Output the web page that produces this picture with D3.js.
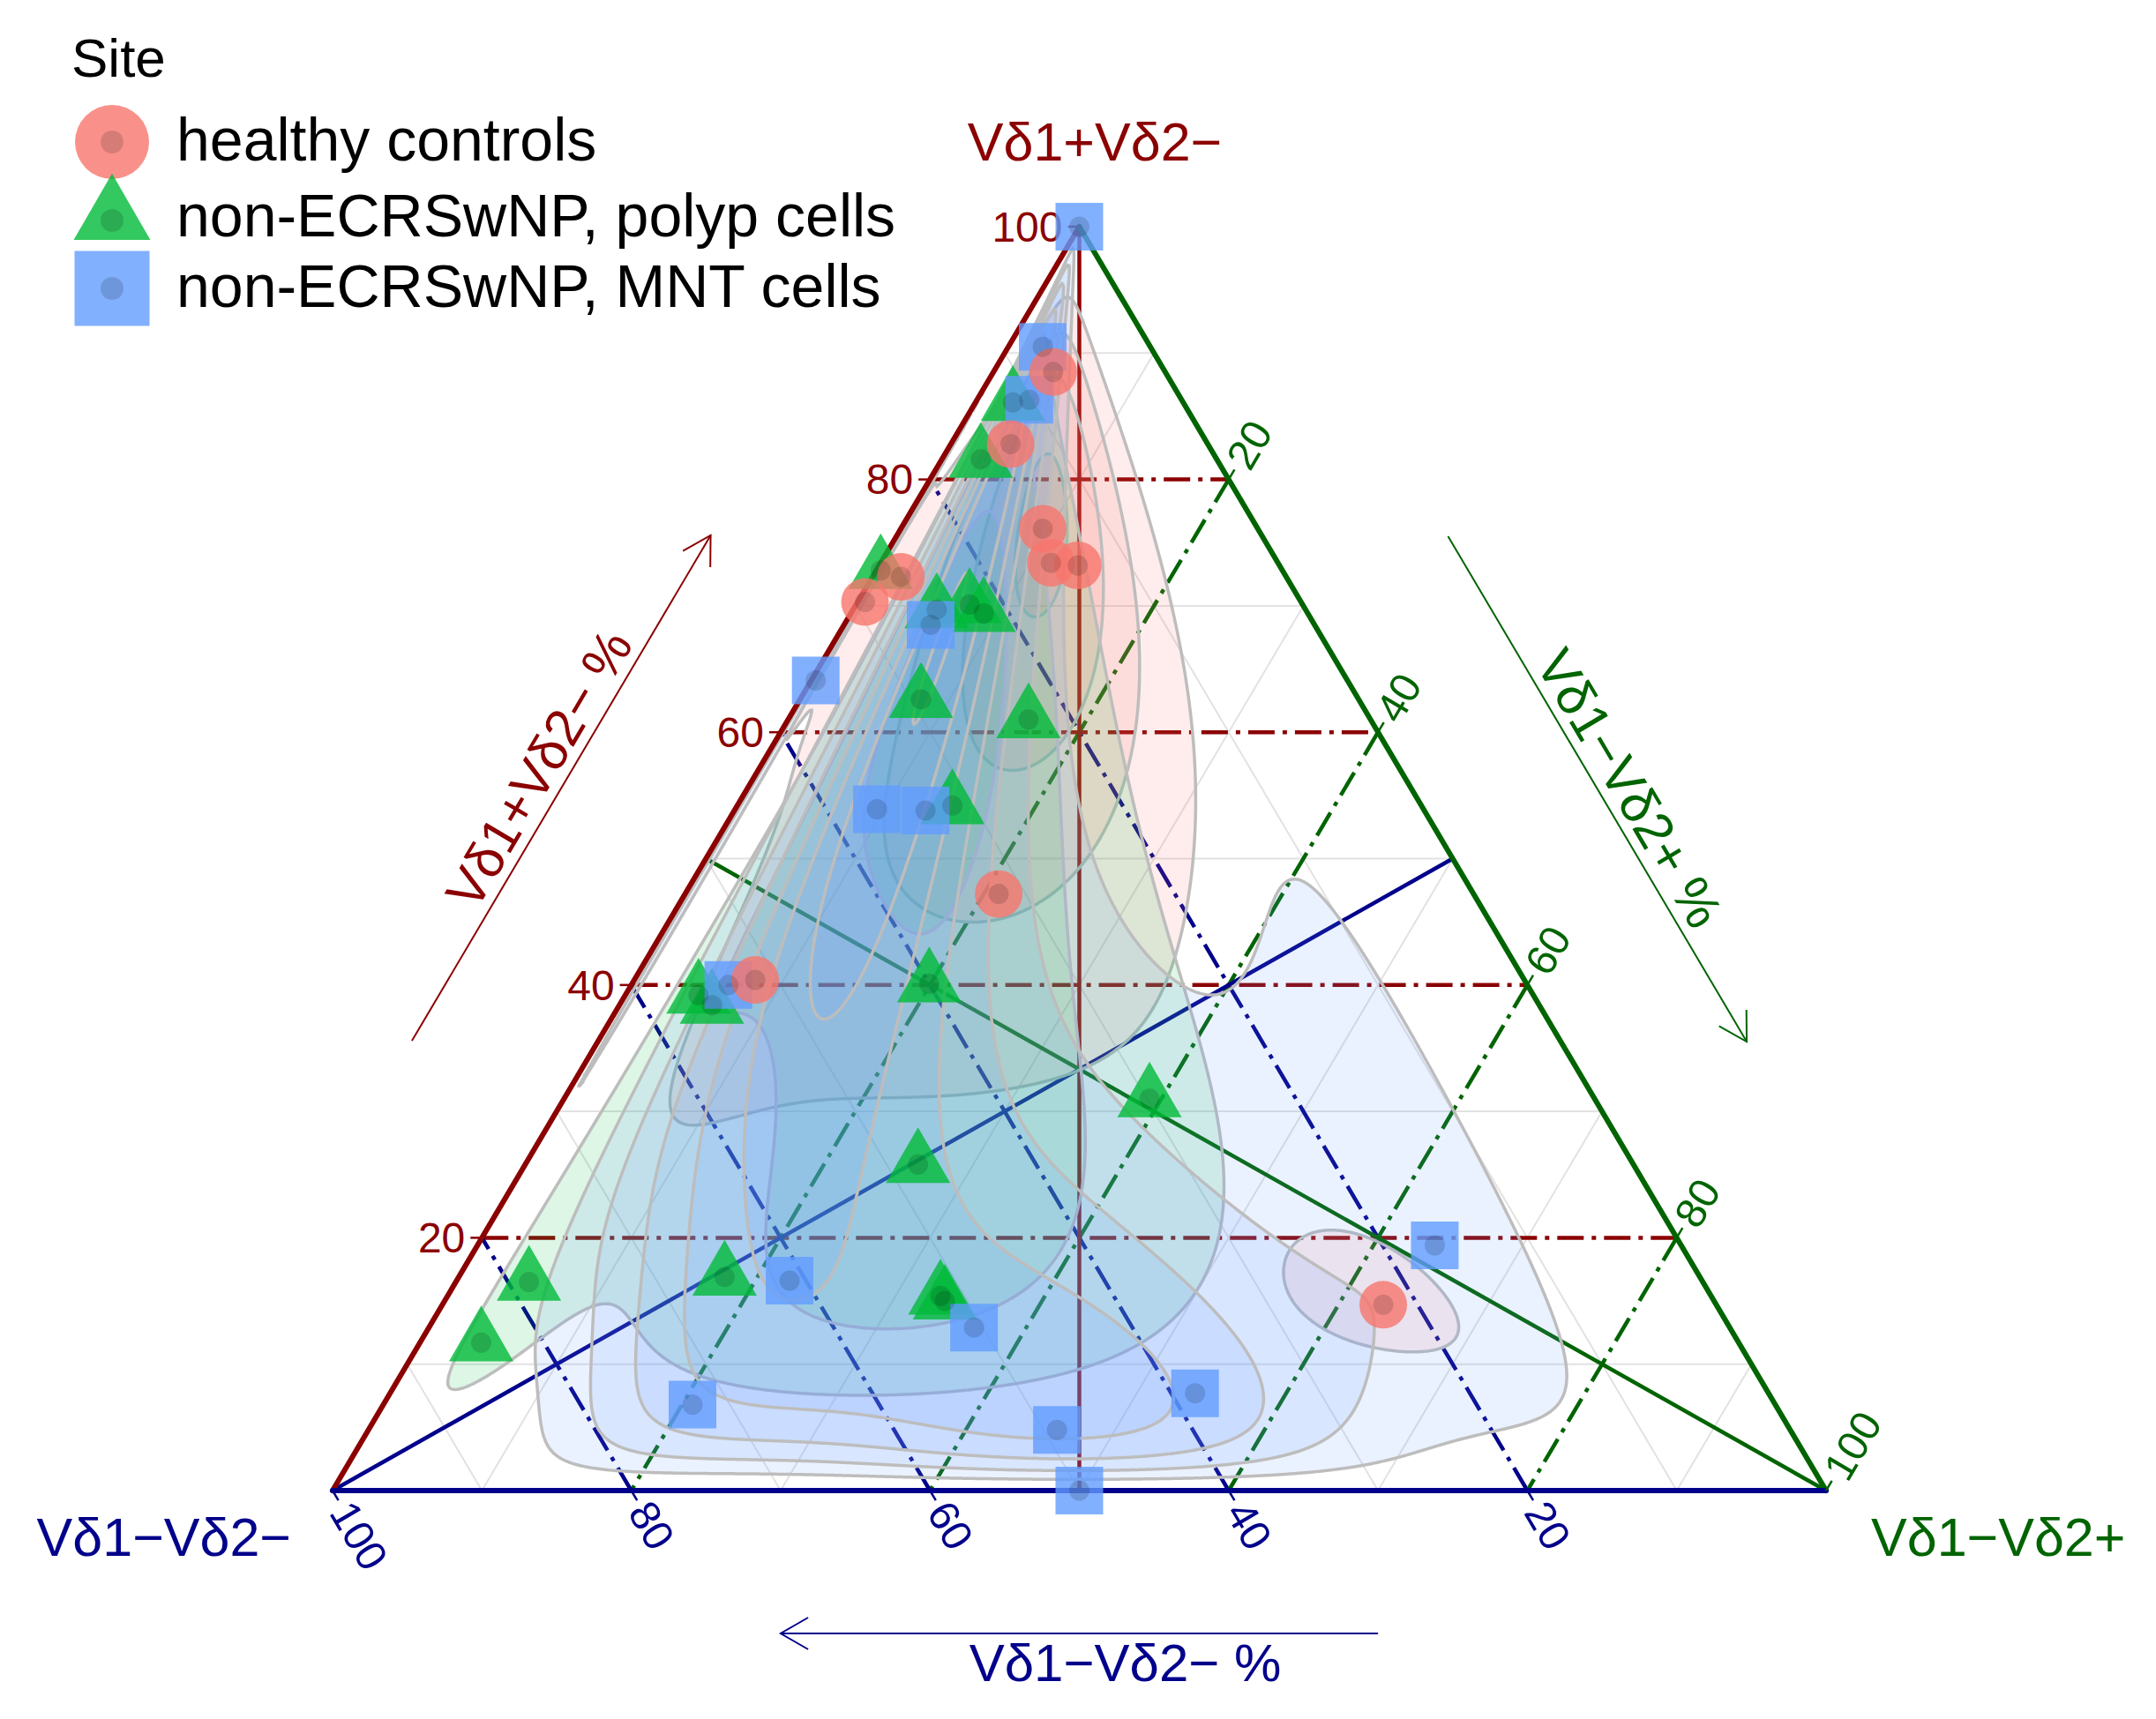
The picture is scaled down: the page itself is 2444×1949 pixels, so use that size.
<!DOCTYPE html>
<html>
<head>
<meta charset="utf-8">
<script src="https://cdn.jsdelivr.net/npm/d3@7"></script>
<style>
  body { margin: 0; background: #fff; }
  svg { display: block; font-family: "Liberation Sans", Arial, sans-serif; }
</style>
</head>
<body>
<svg id="chart"></svg>
<script>
// compositions in %, each point [Vδ1−Vδ2− (left), Vδ1+Vδ2− (top), Vδ1−Vδ2+ (right)]
const siteNames = ["healthy controls", "non-ECRSwNP, polyp cells", "non-ECRSwNP, MNT cells"];
const healthy = [
  [7.5, 88.5, 4.0], [13.2, 82.8, 4.0], [14.4, 76.1, 9.5], [15.2, 73.4, 11.4],
  [13.5, 73.2, 13.3], [25.8, 72.3, 1.9], [29.2, 70.3, 0.5], [31.8, 47.2, 21.0],
  [51.5, 40.4, 8.1], [22.3, 14.7, 63.0]
];
const polyp = [
  [11.4, 86.1, 2.5], [15.8, 81.6, 2.6], [26.9, 72.8, 0.3], [24.7, 69.7, 5.6],
  [22.3, 70.1, 7.6], [21.7, 69.4, 8.9], [29.3, 62.6, 8.1], [22.9, 61.0, 16.1],
  [31.4, 54.2, 14.4], [55.9, 39.2, 4.9], [55.4, 38.4, 6.2], [40.0, 40.1, 19.9],
  [29.8, 31.0, 39.2], [47.9, 25.8, 26.3], [65.3, 16.9, 17.8], [51.6, 15.4, 33.0],
  [51.5, 15.0, 33.5], [78.6, 16.5, 4.9], [84.2, 11.7, 4.1]
];
const mnt = [
  [0, 100, 0], [7.2, 90.5, 2.3], [10.2, 86.3, 3.5], [25.7, 68.5, 5.8],
  [35.6, 64.1, 0.3], [36.6, 53.9, 9.5], [33.4, 53.8, 12.8], [53.5, 40.0, 6.5],
  [61.1, 16.6, 22.3], [50.6, 12.9, 36.5], [72.5, 6.8, 20.7], [49.1, 4.8, 46.1],
  [50, 0, 50], [38.4, 7.7, 53.9], [16.5, 19.4, 64.1]
];
const tickValues = [20, 40, 60, 80, 100];
const majorBreaks = [20, 40, 60, 80];
const minorBreaks = [10, 30, 50, 70, 90];
const axisTitles = { top: "Vδ1+Vδ2−", left: "Vδ1−Vδ2−", right: "Vδ1−Vδ2+" };

const W = 2444, H = 1949;
const siteColors = ["#F8766D", "#00BA38", "#619CFF"];
const cT = "#8b0000", cR = "#006400", cL = "#00008b";

const svg = d3.select("#chart").attr("width", W).attr("height", H).attr("viewBox", [0, 0, W, H]);
svg.append("rect").attr("width", W).attr("height", H).attr("fill", "#fff");

const x = d3.scaleLinear().domain([0, 100]).range([377, 2070]);
const y = d3.scaleLinear().domain([0, 100]).range([1690, 257]);
const pos = ([l, t, r]) => {
  const s = l + t + r;
  return [x(100 * (r + t / 2) / s), y(100 * t / s)];
};
const line = d3.line();
const A = pos([100, 0, 0]), B = pos([0, 100, 0]), C = pos([0, 0, 100]);
const angL = Math.atan2(B[1] - A[1], B[0] - A[0]);   // left edge, pointing up-right
const angR = Math.atan2(C[1] - B[1], C[0] - B[0]);   // right edge, pointing down-right
const deg = a => a * 180 / Math.PI;

// minor grid
const grid = svg.append("g").attr("fill", "none").attr("stroke", "#e2e2e2").attr("stroke-width", 2);
minorBreaks.forEach(v => {
  [[[100 - v, v, 0], [0, v, 100 - v]],
   [[0, 100 - v, v], [100 - v, 0, v]],
   [[v, 0, 100 - v], [v, 100 - v, 0]]].forEach(seg => grid.append("path").attr("d", line(seg.map(pos))));
});

// major grid, dot-dash
const major = svg.append("g").attr("fill", "none").attr("stroke-width", 4.5).attr("stroke-dasharray", "30 9 5 9");
majorBreaks.forEach(v => {
  major.append("path").attr("stroke", cT).attr("d", line([[100 - v, v, 0], [0, v, 100 - v]].map(pos)));
  major.append("path").attr("stroke", cR).attr("d", line([[0, 100 - v, v], [100 - v, 0, v]].map(pos)));
  major.append("path").attr("stroke", cL).attr("d", line([[v, 0, 100 - v], [v, 100 - v, 0]].map(pos)));
});

// centre lines
const med = svg.append("g").attr("fill", "none").attr("stroke-width", 4.5);
med.append("path").attr("stroke", cT).attr("d", line([[0, 100, 0], [50, 0, 50]].map(pos)));
med.append("path").attr("stroke", cL).attr("d", line([[100, 0, 0], [0, 50, 50]].map(pos)));
med.append("path").attr("stroke", cR).attr("d", line([[0, 0, 100], [50, 50, 0]].map(pos)));

// density contours, computed in ilr space like stat_density_tern
function ilr(l, t, r) {
  return [Math.SQRT1_2 * Math.log(l / r), Math.sqrt(2 / 3) * Math.log(t / Math.sqrt(l * r))];
}
function bandwidth(v) {
  const s = v.slice().sort(d3.ascending);
  const iqr = d3.quantileSorted(s, 0.75) - d3.quantileSorted(s, 0.25);
  return 4 * 1.06 * Math.min(d3.deviation(s), iqr / 1.34) * Math.pow(s.length, -0.2);
}
const cell = 2, gx0 = A[0], gy0 = B[1];
const nx = Math.ceil((C[0] - A[0]) / cell), ny = Math.ceil((A[1] - B[1]) / cell);
const Z1 = new Float64Array(nx * ny), Z2 = new Float64Array(nx * ny), inside = new Uint8Array(nx * ny);
for (let j = 0; j < ny; j++) {
  for (let i = 0; i < nx; i++) {
    const t = y.invert(gy0 + (j + 0.5) * cell);
    const r = x.invert(gx0 + (i + 0.5) * cell) - t / 2;
    const l = 100 - t - r;
    const k = j * nx + i;
    if (t > 0 && r > 0 && l > 0) {
      const z = ilr(l, t, r);
      inside[k] = 1; Z1[k] = z[0]; Z2[k] = z[1];
    }
  }
}
const geo = d3.geoPath(d3.geoIdentity().scale(cell).translate([gx0, gy0]));
const dens = svg.append("g");
[healthy, polyp, mnt].forEach((group, gi) => {
  const pts = group.filter(p => p.every(c => c > 0)).map(p => ilr(...p));
  const h1 = bandwidth(pts.map(d => d[0])) / 4, h2 = bandwidth(pts.map(d => d[1])) / 4;
  const vals = new Float64Array(nx * ny);
  for (const [a, b] of pts) {
    for (let k = 0; k < vals.length; k++) {
      if (!inside[k]) continue;
      const u = (Z1[k] - a) / h1, w = (Z2[k] - b) / h2;
      const e = u * u + w * w;
      if (e < 60) vals[k] += Math.exp(-0.5 * e);
    }
  }
  const norm = 1 / (pts.length * 2 * Math.PI * h1 * h2);
  const arr = Array.from(vals, v => v * norm);
  const levels = d3.ticks(0, d3.max(arr), 5).filter(v => v > 0);
  const contours = d3.contours().size([nx, ny]).thresholds(levels)(arr);
  dens.append("g").selectAll("path").data(contours).join("path")
      .attr("d", geo)
      .attr("fill", siteColors[gi]).attr("fill-opacity", 0.13)
      .attr("stroke", "#bdbdbd").attr("stroke-width", 3.5);
});

// triangle edges
const edges = svg.append("g").attr("fill", "none").attr("stroke-width", 6).attr("stroke-linecap", "round");
edges.append("path").attr("stroke", cT).attr("d", line([A, B]));
edges.append("path").attr("stroke", cR).attr("d", line([B, C]));
edges.append("path").attr("stroke", cL).attr("d", line([A, C]));

// ticks and labels
const ticks = svg.append("g").attr("font-size", 48);
const tickLen = 13, gap = 19;
tickValues.forEach(v => {
  // top component, left edge
  let p = pos([100 - v, v, 0]);
  ticks.append("path").attr("stroke", cT).attr("stroke-width", 2.5).attr("d", line([p, [p[0] - tickLen, p[1]]]));
  ticks.append("text").attr("x", p[0] - gap).attr("y", p[1]).attr("dy", "0.35em")
      .attr("text-anchor", "end").attr("fill", cT).text(v);
  // right component, right edge
  p = pos([0, 100 - v, v]);
  let d = [Math.cos(angL), Math.sin(angL)];
  ticks.append("path").attr("stroke", cR).attr("stroke-width", 2.5)
      .attr("d", line([p, [p[0] + d[0] * tickLen, p[1] + d[1] * tickLen]]));
  ticks.append("text").attr("transform", `translate(${p[0] + d[0] * gap},${p[1] + d[1] * gap}) rotate(${deg(angL)})`)
      .attr("dy", "0.35em").attr("fill", cR).text(v);
  // left component, bottom edge
  p = pos([v, 0, 100 - v]);
  d = [Math.cos(angR), Math.sin(angR)];
  ticks.append("path").attr("stroke", cL).attr("stroke-width", 2.5)
      .attr("d", line([p, [p[0] + d[0] * tickLen, p[1] + d[1] * tickLen]]));
  ticks.append("text").attr("transform", `translate(${p[0] + d[0] * gap},${p[1] + d[1] * gap}) rotate(${deg(angR)})`)
      .attr("dy", "0.35em").attr("fill", cL).text(v);
});

// vertex titles
const titles = svg.append("g").attr("font-size", 61);
titles.append("text").attr("x", 1241).attr("y", 182).attr("text-anchor", "middle").attr("fill", cT).text(axisTitles.top);
titles.append("text").attr("x", 330).attr("y", 1764).attr("text-anchor", "end").attr("fill", cL).text(axisTitles.left);
titles.append("text").attr("x", 2121).attr("y", 1764).attr("fill", cR).text(axisTitles.right);

// axis arrows with titles
function arrow(p0, p1, col, label, rot, textPos) {
  const g = svg.append("g").attr("stroke", col).attr("fill", "none").attr("stroke-width", 2);
  const a = Math.atan2(p1[1] - p0[1], p1[0] - p0[0]), hl = 36, ha = Math.PI / 6;
  g.append("path").attr("d", line([p0, p1]));
  g.append("path").attr("d", line([
    [p1[0] - hl * Math.cos(a - ha), p1[1] - hl * Math.sin(a - ha)], p1,
    [p1[0] - hl * Math.cos(a + ha), p1[1] - hl * Math.sin(a + ha)]]));
  svg.append("text").attr("transform", `translate(${textPos[0]},${textPos[1]}) rotate(${rot})`)
      .attr("text-anchor", "middle").attr("font-size", 60).attr("fill", col).text(label);
}
const along = (P, Q, f) => [P[0] + (Q[0] - P[0]) * f, P[1] + (Q[1] - P[1]) * f];
const shift = (p, dx, dy) => [p[0] + dx, p[1] + dy];
{
  const p0 = shift(along(A, B, 0.3), -164, -80), p1 = shift(along(A, B, 0.7), -164, -80);
  const m = along(p0, p1, 0.5), up = [Math.sin(angL), -Math.cos(angL)];
  arrow(p0, p1, cT, "Vδ1+Vδ2− %", deg(angL),
        [m[0] + 6 * Math.cos(angL) + 12 * up[0], m[1] + 6 * Math.sin(angL) + 12 * up[1]]);
}
{
  const p0 = shift(along(B, C, 0.3), 164, -79), p1 = shift(along(B, C, 0.7), 164, -79);
  const m = along(p0, p1, 0.5), up = [Math.sin(angR), -Math.cos(angR)];
  arrow(p0, p1, cR, "Vδ1−Vδ2+ %", deg(angR),
        [m[0] + 18 * Math.cos(angR) + 11 * up[0], m[1] + 18 * Math.sin(angR) + 11 * up[1]]);
}
{
  const p0 = shift(along(A, C, 0.7), 0, 162), p1 = shift(along(A, C, 0.3), 0, 162);
  const m = along(p0, p1, 0.5);
  arrow(p0, p1, cL, "Vδ1−Vδ2− %", 0, [m[0] + 52, m[1] + 54]);
}

// points: polyp, MNT, then healthy on top
const shapes = [d3.symbolCircle, d3.symbolTriangle, d3.symbolSquare];
const sizes = [2290, 2307, 2916];
const pointGroups = [[polyp, 1], [mnt, 2], [healthy, 0]];
const pts = svg.append("g");
pointGroups.forEach(([group, gi]) => {
  pts.append("g").selectAll("path").data(group).join("path")
      .attr("transform", d => `translate(${pos(d)})`)
      .attr("d", d3.symbol(shapes[gi], sizes[gi]))
      .attr("fill", siteColors[gi]).attr("fill-opacity", 0.8);
});
pointGroups.forEach(([group, gi]) => {
  pts.append("g").selectAll("circle").data(group).join("circle")
      .attr("cx", d => pos(d)[0]).attr("cy", d => pos(d)[1]).attr("r", 11.5)
      .attr("fill", "#000").attr("fill-opacity", 0.14);
});

// legend
const legend = svg.append("g");
legend.append("text").attr("x", 81).attr("y", 87).attr("font-size", 62).attr("fill", "#000").text("Site");
const legendY = [161, 247, 327], legendSizes = [5540, 3277, 7225];
siteNames.forEach((name, i) => {
  legend.append("path").attr("transform", `translate(127,${legendY[i]})`)
      .attr("d", d3.symbol(shapes[i], legendSizes[i]))
      .attr("fill", siteColors[i]).attr("fill-opacity", 0.8);
  legend.append("circle").attr("cx", 127).attr("cy", legendY[i] + (i === 1 ? 3 : 0)).attr("r", 13)
      .attr("fill", "#000").attr("fill-opacity", 0.14);
  legend.append("text").attr("x", 200).attr("y", legendY[i] + 21).attr("font-size", 68).attr("fill", "#000").text(name);
});
</script>
</body>
</html>
